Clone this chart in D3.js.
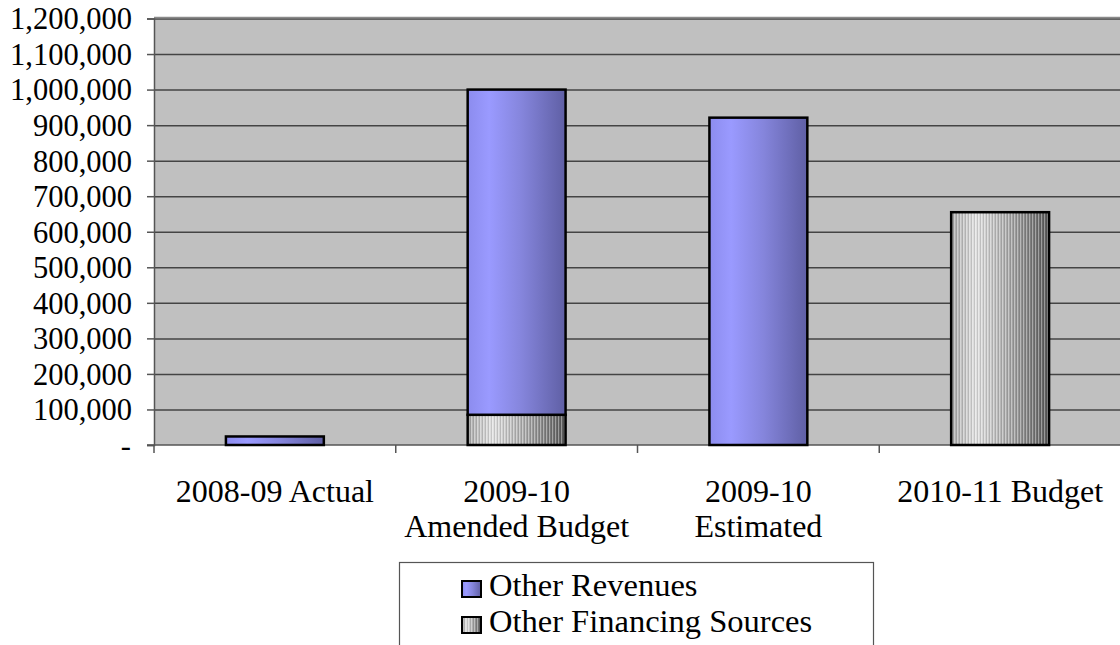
<!DOCTYPE html>
<html>
<head>
<meta charset="utf-8">
<script src="https://cdn.jsdelivr.net/npm/d3@7"></script>
<style>
  html, body { margin: 0; padding: 0; background: #fff; }
  svg { display: block; font-family: "Liberation Serif", "DejaVu Serif", serif; }
  .cat-label { font-size: 32px; fill: #000; }
  .legend-label { font-size: 32.5px; fill: #000; }
</style>
</head>
<body>
<svg id="chart" width="1120" height="645"></svg>
<script>
const categories = ["2008-09 Actual", "2009-10|Amended Budget", "2009-10|Estimated", "2010-11 Budget"];
const seriesNames = ["Other Financing Sources", "Other Revenues"];
const otherFinancing = [0, 85000, 0, 655000];
const otherRevenues = [24000, 915000, 921000, 0];
const yTicks = [0, 100000, 200000, 300000, 400000, 500000, 600000, 700000, 800000, 900000, 1000000, 1100000, 1200000];

const svg = d3.select("#chart");
const W = 1120, H = 645;
const plot = { left: 154, top: 18.5, bottom: 445, right: 1121 };

const defs = svg.append("defs");

// blue bar shading
const blue = defs.append("linearGradient").attr("id", "blueGrad");
[["0%", "#8c8cee"], ["22%", "#9a9aff"], ["55%", "#8585dc"], ["100%", "#5f5fa4"]]
  .forEach(([o, c]) => blue.append("stop").attr("offset", o).attr("stop-color", c));

// grey striped shading
const grey = defs.append("linearGradient").attr("id", "greyGrad");
[["0%", "#a9a9a9"], ["25%", "#e2e2e2"], ["60%", "#a8a8a8"], ["100%", "#585858"]]
  .forEach(([o, c]) => grey.append("stop").attr("offset", o).attr("stop-color", c));

const stripes = defs.append("pattern")
  .attr("id", "stripes")
  .attr("patternUnits", "userSpaceOnUse")
  .attr("width", 3).attr("height", 10);
stripes.append("rect").attr("width", 1).attr("height", 10).attr("fill", "rgba(255,255,255,0.35)");
stripes.append("rect").attr("x", 2).attr("width", 1).attr("height", 10).attr("fill", "rgba(0,0,0,0.12)");

const x = d3.scaleBand()
  .domain(categories)
  .range([plot.left, plot.right])
  .padding(0);

const y = d3.scaleLinear()
  .domain([0, 1200000])
  .range([plot.bottom, plot.top]);

const barW = x.bandwidth() * 0.405;

// plot background
svg.append("rect")
  .attr("x", plot.left).attr("y", plot.top)
  .attr("width", W - plot.left).attr("height", plot.bottom - plot.top)
  .attr("fill", "#c0c0c0");

// gridlines
svg.append("g")
  .attr("transform", `translate(${plot.left},0)`)
  .call(d3.axisLeft(y).tickValues(yTicks.filter(d => d > 0)).tickSize(-(W - plot.left)).tickFormat(""))
  .call(g => g.select(".domain").remove())
  .call(g => g.selectAll("line").attr("stroke", "#444").attr("stroke-width", 1.5));

// top border
svg.append("line")
  .attr("x1", plot.left).attr("x2", W)
  .attr("y1", plot.top - 1).attr("y2", plot.top - 1)
  .attr("stroke", "#8a8a8a").attr("stroke-width", 1.5);

// y axis
const fmt = d => d === 0 ? "-" : d3.format(",")(d);
svg.append("g")
  .attr("transform", `translate(${plot.left},0)`)
  .call(d3.axisLeft(y).tickValues(yTicks).tickSize(7).tickPadding(15).tickFormat(fmt))
  .call(g => g.select(".domain").attr("stroke", "#555").attr("stroke-width", 1.5))
  .call(g => g.selectAll(".tick line").attr("stroke", "#555").attr("stroke-width", 1.5))
  .call(g => g.selectAll(".tick text")
    .style("font-family", "'Liberation Serif', 'DejaVu Serif', serif")
    .style("font-size", "30.5px")
    .attr("fill", "#000")
    .attr("x", -22)
    .attr("dx", d => d === 0 ? -1 : 0)
    .attr("dy", "0.34em"));

// x axis
const xAxis = svg.append("g")
  .attr("transform", `translate(0,${plot.bottom})`);
xAxis.append("line")
  .attr("x1", plot.left - 7).attr("x2", W)
  .attr("stroke", "#555").attr("stroke-width", 1.5);
xAxis.selectAll("line.sep")
  .data(categories)
  .join("line")
  .attr("class", "sep")
  .attr("x1", d => x(d)).attr("x2", d => x(d))
  .attr("y1", 0).attr("y2", 8)
  .attr("stroke", "#555").attr("stroke-width", 1.5);

const catText = svg.append("g").selectAll("text")
  .data(categories)
  .join("text")
  .attr("class", "cat-label")
  .attr("text-anchor", "middle")
  .attr("x", d => x(d) + x.bandwidth() / 2)
  .attr("y", 502);
catText.selectAll("tspan")
  .data(d => d.split("|").map(t => ({ t, c: d })))
  .join("tspan")
  .attr("x", d => x(d.c) + x.bandwidth() / 2)
  .attr("dy", (d, i) => i === 0 ? 0 : 35)
  .text(d => d.t);

// stacked bars
const table = categories.map((c, i) => ({
  category: c,
  "Other Financing Sources": otherFinancing[i],
  "Other Revenues": otherRevenues[i]
}));
const stacked = d3.stack().keys(seriesNames)(table);
const fills = { "Other Financing Sources": "url(#greyGrad)", "Other Revenues": "url(#blueGrad)" };

const layers = svg.append("g").selectAll("g")
  .data(stacked)
  .join("g");

layers.each(function(layer) {
  const g = d3.select(this);
  const segs = layer.filter(s => s[1] - s[0] > 0);
  const rects = g.selectAll("g.seg")
    .data(segs)
    .join("g")
    .attr("class", "seg");
  const place = sel => sel
    .attr("x", s => x(s.data.category) + (x.bandwidth() - barW) / 2)
    .attr("y", s => y(s[1]))
    .attr("width", barW)
    .attr("height", s => y(s[0]) - y(s[1]));
  rects.append("rect").call(place).attr("fill", fills[layer.key]);
  if (layer.key === "Other Financing Sources") {
    rects.append("rect").call(place).attr("fill", "url(#stripes)");
  }
  rects.append("rect").call(place)
    .attr("fill", "none")
    .attr("stroke", "#000")
    .attr("stroke-width", 2.5);
});

// legend
const legend = svg.append("g");
legend.append("rect")
  .attr("x", 399.5).attr("y", 562.5)
  .attr("width", 474).attr("height", 120)
  .attr("fill", "#fff").attr("stroke", "#555").attr("stroke-width", 1.2);

const legendItems = ["Other Revenues", "Other Financing Sources"];
const li = legend.selectAll("g.item")
  .data(legendItems)
  .join("g")
  .attr("class", "item")
  .attr("transform", (d, i) => `translate(462,${581 + i * 36})`);
li.append("rect")
  .attr("width", 19).attr("height", 16)
  .attr("fill", d => fills[d]);
li.filter(d => d === "Other Financing Sources").append("rect")
  .attr("width", 19).attr("height", 16)
  .attr("fill", "url(#stripes)");
li.append("rect")
  .attr("width", 19).attr("height", 16)
  .attr("fill", "none").attr("stroke", "#000").attr("stroke-width", 2);
li.append("text")
  .attr("class", "legend-label")
  .attr("x", 27).attr("y", 15)
  .text(d => d);
</script>
</body>
</html>
